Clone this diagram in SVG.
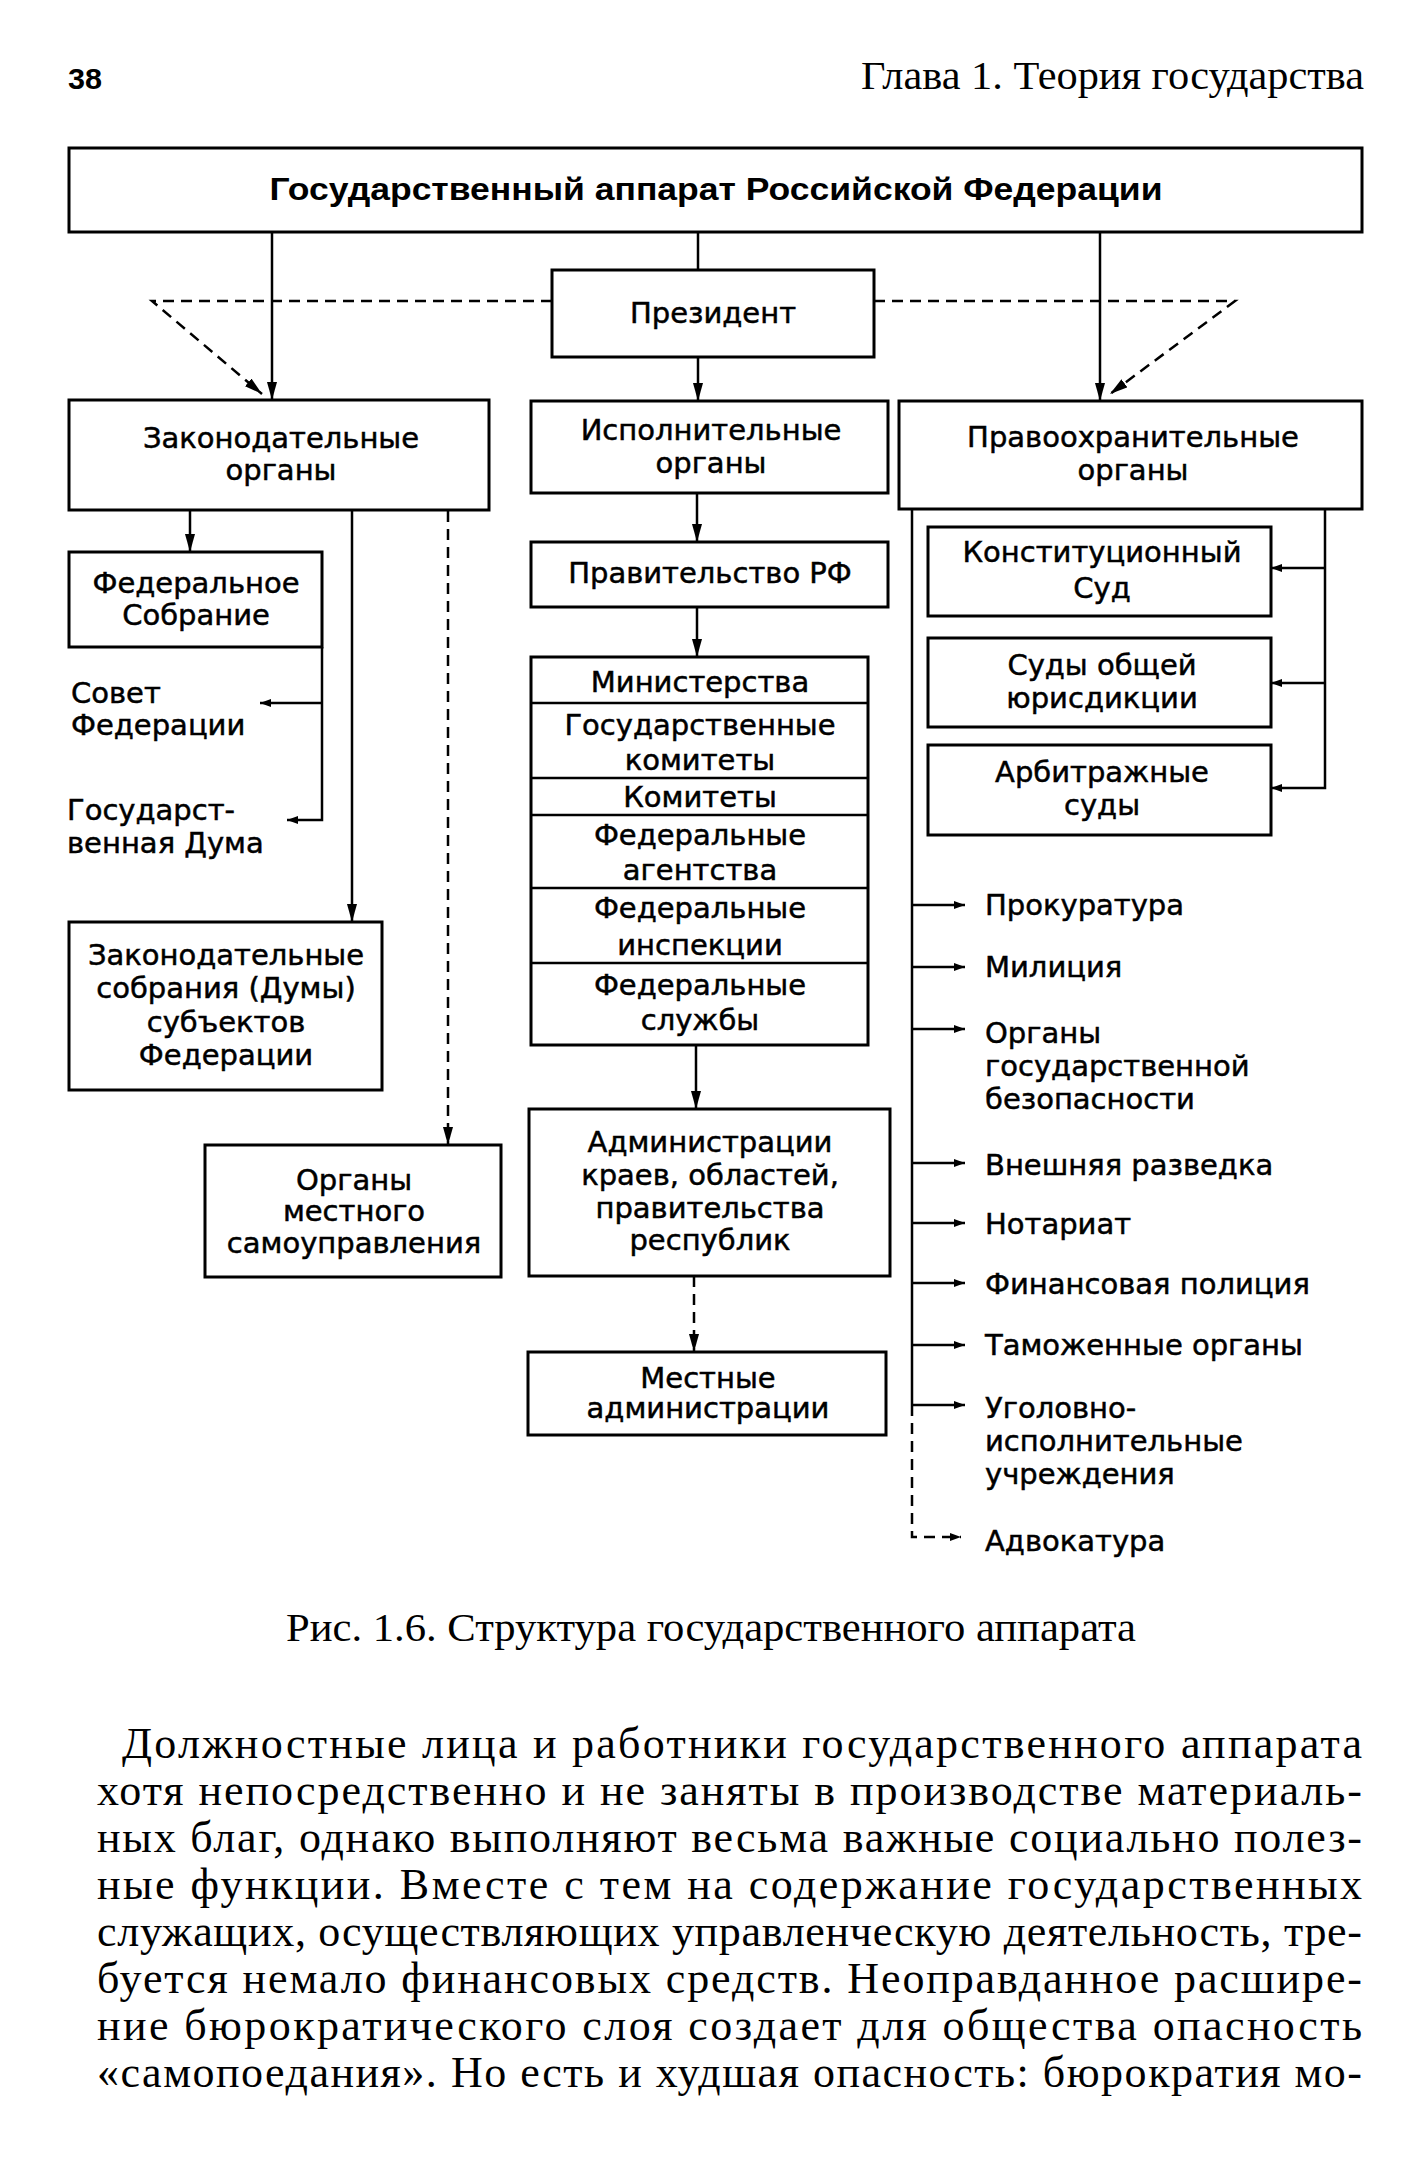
<svg xmlns="http://www.w3.org/2000/svg" width="1428" height="2167" viewBox="0 0 1428 2167">
<defs>
<style>
.bx{fill:#fff;stroke:#000;stroke-width:3}
.ln{fill:none;stroke:#000;stroke-width:2.5}
.dl{fill:none;stroke:#000;stroke-width:2.5;stroke-dasharray:11 7}
.lb{font-family:"DejaVu Sans","Liberation Sans",sans-serif;font-size:29px;fill:#000;stroke:#000;stroke-width:0.5;text-anchor:middle}
.ll{font-family:"DejaVu Sans","Liberation Sans",sans-serif;font-size:29px;fill:#000;stroke:#000;stroke-width:0.5}
.sr{font-family:"Liberation Serif","DejaVu Serif",serif;fill:#000}
</style>
<marker id="ah" viewBox="0 0 18 10" refX="18" refY="5" markerWidth="18" markerHeight="10" markerUnits="userSpaceOnUse" orient="auto"><path d="M0,0 L18,5 L0,10 z"/></marker>
<marker id="as" viewBox="0 0 11 8" refX="11" refY="4" markerWidth="11" markerHeight="8" markerUnits="userSpaceOnUse" orient="auto"><path d="M0,0 L11,4 L0,8 z"/></marker>
</defs>
<rect width="1428" height="2167" fill="#fff"/>

<g id="header">
<text x="68" y="89" font-family="Liberation Sans, Arial, sans-serif" font-weight="bold" font-size="30" textLength="34" lengthAdjust="spacingAndGlyphs">38</text>
<text class="sr" x="1364" y="89" font-size="40" text-anchor="end" textLength="503" lengthAdjust="spacingAndGlyphs">Глава 1. Теория государства</text>
</g>

<g id="connectors">
<line class="ln" x1="272" y1="232" x2="272" y2="400" marker-end="url(#ah)"/>
<line class="ln" x1="1100" y1="232" x2="1100" y2="401" marker-end="url(#ah)"/>
<line class="ln" x1="698" y1="232" x2="698" y2="270"/>
<line class="ln" x1="698" y1="357" x2="698" y2="401" marker-end="url(#ah)"/>
<polyline class="dl" points="552,301 152,301 262,394" marker-end="url(#ah)"/>
<polyline class="dl" points="874,301 1235,301 1110,394" marker-end="url(#ah)"/>
<line class="ln" x1="190" y1="510" x2="190" y2="552" marker-end="url(#ah)"/>
<line class="ln" x1="352" y1="510" x2="352" y2="922" marker-end="url(#ah)"/>
<line class="dl" x1="448" y1="511" x2="448" y2="1145" marker-end="url(#ah)"/>
<polyline class="ln" points="322,647 322,820 287,820" marker-end="url(#as)"/>
<line class="ln" x1="322" y1="703" x2="260" y2="703" marker-end="url(#as)"/>
<line class="ln" x1="697" y1="493" x2="697" y2="542" marker-end="url(#ah)"/>
<line class="ln" x1="697" y1="607" x2="697" y2="657" marker-end="url(#ah)"/>
<line class="ln" x1="696" y1="1045" x2="696" y2="1109" marker-end="url(#ah)"/>
<line class="dl" x1="694" y1="1276" x2="694" y2="1352" marker-end="url(#ah)"/>
<polyline class="ln" points="1325,509 1325,788 1271,788" marker-end="url(#as)"/>
<line class="ln" x1="1325" y1="568" x2="1271" y2="568" marker-end="url(#as)"/>
<line class="ln" x1="1325" y1="683" x2="1271" y2="683" marker-end="url(#as)"/>
<line class="ln" x1="912" y1="509" x2="912" y2="1405"/>
<polyline class="dl" points="912,1405 912,1537 961,1537" marker-end="url(#as)"/>
<line class="ln" x1="912" y1="905" x2="965" y2="905" marker-end="url(#as)"/>
<line class="ln" x1="912" y1="967" x2="965" y2="967" marker-end="url(#as)"/>
<line class="ln" x1="912" y1="1029" x2="965" y2="1029" marker-end="url(#as)"/>
<line class="ln" x1="912" y1="1163" x2="965" y2="1163" marker-end="url(#as)"/>
<line class="ln" x1="912" y1="1223" x2="965" y2="1223" marker-end="url(#as)"/>
<line class="ln" x1="912" y1="1283" x2="965" y2="1283" marker-end="url(#as)"/>
<line class="ln" x1="912" y1="1345" x2="965" y2="1345" marker-end="url(#as)"/>
<line class="ln" x1="912" y1="1405" x2="965" y2="1405" marker-end="url(#as)"/>
</g>

<g id="n-apparat"><rect class="bx" x="69" y="148" width="1293" height="84"/>
<text x="716" y="200" font-family="Liberation Sans, Arial, sans-serif" font-weight="bold" font-size="31" text-anchor="middle" textLength="893" lengthAdjust="spacingAndGlyphs">Государственный аппарат Российской Федерации</text></g>

<g id="n-president"><rect class="bx" x="552" y="270" width="322" height="87"/>
<text class="lb" x="713" y="323">Президент</text></g>

<g id="n-legislative"><rect class="bx" x="69" y="400" width="420" height="110"/>
<text class="lb" x="281" y="448">Законодательные</text><text class="lb" x="281" y="480">органы</text></g>

<g id="n-executive"><rect class="bx" x="531" y="401" width="357" height="92"/>
<text class="lb" x="711" y="440">Исполнительные</text><text class="lb" x="711" y="473">органы</text></g>

<g id="n-lawenf"><rect class="bx" x="899" y="401" width="463" height="108"/>
<text class="lb" x="1133" y="447">Правоохранительные</text><text class="lb" x="1133" y="480">органы</text></g>

<g id="n-fedsob"><rect class="bx" x="69" y="552" width="253" height="95"/>
<text class="lb" x="196" y="593">Федеральное</text><text class="lb" x="196" y="625">Собрание</text></g>

<g id="n-sovfed"><text class="ll" x="71" y="703">Совет</text><text class="ll" x="71" y="735">Федерации</text></g>
<g id="n-duma"><text class="ll" x="67" y="820">Государст-</text><text class="ll" x="67" y="853">венная Дума</text></g>

<g id="n-govt"><rect class="bx" x="531" y="542" width="357" height="65"/>
<text class="lb" x="710" y="583">Правительство РФ</text></g>

<g id="n-ministries"><rect class="bx" x="531" y="657" width="337" height="388"/>
<line class="ln" x1="531" y1="703" x2="868" y2="703"/>
<line class="ln" x1="531" y1="778" x2="868" y2="778"/>
<line class="ln" x1="531" y1="815" x2="868" y2="815"/>
<line class="ln" x1="531" y1="888" x2="868" y2="888"/>
<line class="ln" x1="531" y1="963" x2="868" y2="963"/>
<text class="lb" x="700" y="692">Министерства</text>
<text class="lb" x="700" y="735">Государственные</text><text class="lb" x="700" y="770">комитеты</text>
<text class="lb" x="700" y="807">Комитеты</text>
<text class="lb" x="700" y="845">Федеральные</text><text class="lb" x="700" y="880">агентства</text>
<text class="lb" x="700" y="918">Федеральные</text><text class="lb" x="700" y="955">инспекции</text>
<text class="lb" x="700" y="995">Федеральные</text><text class="lb" x="700" y="1030">службы</text></g>

<g id="n-konstsud"><rect class="bx" x="928" y="527" width="343" height="89"/>
<text class="lb" x="1102" y="562">Конституционный</text><text class="lb" x="1102" y="598">Суд</text></g>
<g id="n-sudyobsh"><rect class="bx" x="928" y="638" width="343" height="89"/>
<text class="lb" x="1102" y="675">Суды общей</text><text class="lb" x="1102" y="708">юрисдикции</text></g>
<g id="n-arbitr"><rect class="bx" x="928" y="745" width="343" height="90"/>
<text class="lb" x="1102" y="782">Арбитражные</text><text class="lb" x="1102" y="815">суды</text></g>

<g id="n-legsubj"><rect class="bx" x="69" y="922" width="313" height="168"/>
<text class="lb" x="226" y="965">Законодательные</text><text class="lb" x="226" y="998">собрания (Думы)</text><text class="lb" x="226" y="1032">субъектов</text><text class="lb" x="226" y="1065">Федерации</text></g>

<g id="n-localself"><rect class="bx" x="205" y="1145" width="296" height="132"/>
<text class="lb" x="354" y="1190">Органы</text><text class="lb" x="354" y="1221">местного</text><text class="lb" x="354" y="1253">самоуправления</text></g>

<g id="n-admin"><rect class="bx" x="529" y="1109" width="361" height="167"/>
<text class="lb" x="710" y="1152">Администрации</text><text class="lb" x="710" y="1185">краев, областей,</text><text class="lb" x="710" y="1218">правительства</text><text class="lb" x="710" y="1250">республик</text></g>

<g id="n-localadmin"><rect class="bx" x="528" y="1352" width="358" height="83"/>
<text class="lb" x="708" y="1388">Местные</text><text class="lb" x="708" y="1418">администрации</text></g>

<g id="n-prok"><text class="ll" x="985" y="915">Прокуратура</text></g>
<g id="n-milic"><text class="ll" x="985" y="977">Милиция</text></g>
<g id="n-gb"><text class="ll" x="985" y="1043">Органы</text><text class="ll" x="985" y="1076">государственной</text><text class="ll" x="985" y="1109">безопасности</text></g>
<g id="n-razv"><text class="ll" x="985" y="1175">Внешняя разведка</text></g>
<g id="n-notar"><text class="ll" x="985" y="1234">Нотариат</text></g>
<g id="n-finpol"><text class="ll" x="985" y="1294">Финансовая полиция</text></g>
<g id="n-tamozh"><text class="ll" x="985" y="1355">Таможенные органы</text></g>
<g id="n-ugol"><text class="ll" x="985" y="1418">Уголовно-</text><text class="ll" x="985" y="1451">исполнительные</text><text class="ll" x="985" y="1484">учреждения</text></g>
<g id="n-advok"><text class="ll" x="985" y="1551">Адвокатура</text></g>

<g id="caption"><text class="sr" x="711" y="1641" font-size="39" text-anchor="middle" textLength="850" lengthAdjust="spacingAndGlyphs">Рис. 1.6. Структура государственного аппарата</text></g>

<g id="paragraph" class="sr" font-size="44">
<text x="122" y="1758" textLength="1240">Должностные лица и работники государственного аппарата</text>
<text x="97" y="1805" textLength="1265">хотя непосредственно и не заняты в производстве материаль-</text>
<text x="97" y="1852" textLength="1265">ных благ, однако выполняют весьма важные социально полез-</text>
<text x="97" y="1899" textLength="1265">ные функции. Вместе с тем на содержание государственных</text>
<text x="97" y="1946" textLength="1265">служащих, осуществляющих управленческую деятельность, тре-</text>
<text x="97" y="1993" textLength="1265">буется немало финансовых средств. Неоправданное расшире-</text>
<text x="97" y="2040" textLength="1265">ние бюрократического слоя создает для общества опасность</text>
<text x="97" y="2087" textLength="1265">«самопоедания». Но есть и худшая опасность: бюрократия мо-</text>
</g>
</svg>
